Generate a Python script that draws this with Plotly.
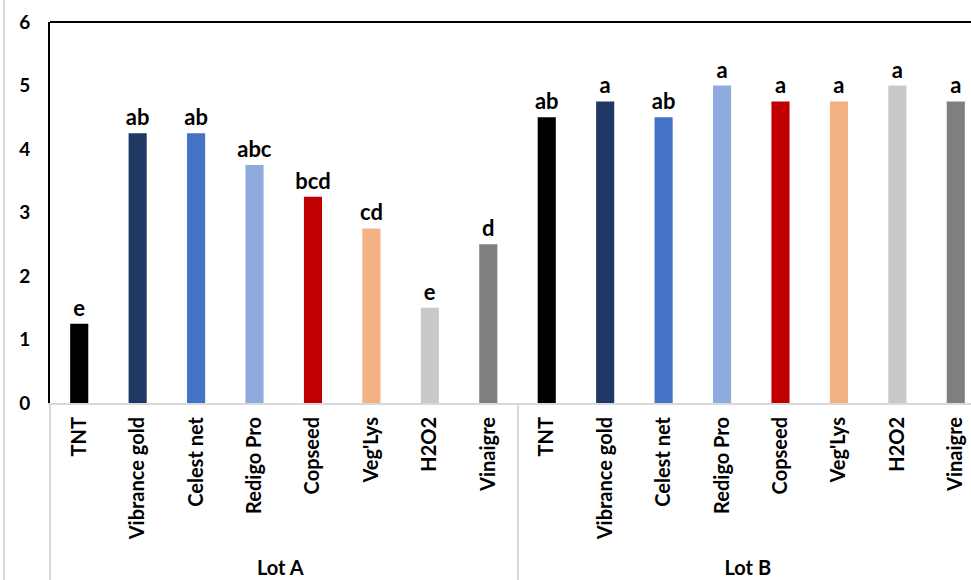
import plotly.graph_objects as go

lots = ["Lot A"] * 8 + ["Lot B"] * 8
products = ["TNT", "Vibrance gold", "Celest net", "Redigo Pro", "Copseed", "Veg'Lys", "H2O2", "Vinaigre"] * 2
values = [1.25, 4.25, 4.25, 3.75, 3.25, 2.75, 1.5, 2.5,
          4.5, 4.75, 4.5, 5.0, 4.75, 4.75, 5.0, 4.75]
letters = ["e", "ab", "ab", "abc", "bcd", "cd", "e", "d",
           "ab", "a", "ab", "a", "a", "a", "a", "a"]
colors = ["#000000", "#203864", "#4472C4", "#8FAADC", "#C00000", "#F4B183", "#C9C9C9", "#7F7F7F"] * 2

FONT = "Lato"

fig = go.Figure(go.Bar(
    x=[lots, products],
    y=values,
    marker=dict(color=colors, line=dict(width=0)),
    text=letters,
    textposition="outside",
    constraintext="none",
    textfont=dict(family=FONT, size=22, color="black", weight="bold"),
    cliponaxis=False,
))

fig.update_layout(
    width=971, height=580,
    margin=dict(l=50, r=0, t=22, b=177),
    plot_bgcolor="white", paper_bgcolor="white",
    bargap=0.69,
    showlegend=False,
    font=dict(family=FONT, size=19, color="black", weight="bold"),
    xaxis=dict(
        type="multicategory",
        range=[-0.5, 15.26],
        showline=True, linecolor="#D9D9D9", linewidth=2,
        tickangle=-90,
        showdividers=True, dividercolor="#D9D9D9", dividerwidth=2,
        tickfont=dict(family=FONT, size=20, color="black", weight="bold"),
        ticks="",
        ticklabelstandoff=4,
        showgrid=False,
    ),
    yaxis=dict(
        range=[0, 6], tickvals=[0, 1, 2, 3, 4, 5, 6],
        showline=True, linecolor="black", linewidth=2,
        showgrid=False, zeroline=False,
        tickfont=dict(family=FONT, size=19, color="black", weight="bold"),
        ticklabelstandoff=14,
    ),
    shapes=[
        dict(type="line", xref="paper", yref="paper", x0=0, x1=1, y0=1, y1=1,
             line=dict(color="black", width=2)),
        dict(type="line", xref="paper", yref="paper", x0=-0.05, x1=-0.05, y0=-0.47, y1=1.06,
             line=dict(color="#D9D9D9", width=2)),
    ],
)

fig.write_html("out.html", config={"displayModeBar": False},
               post_script="document.body.style.margin='0';document.body.style.overflow='hidden';")
